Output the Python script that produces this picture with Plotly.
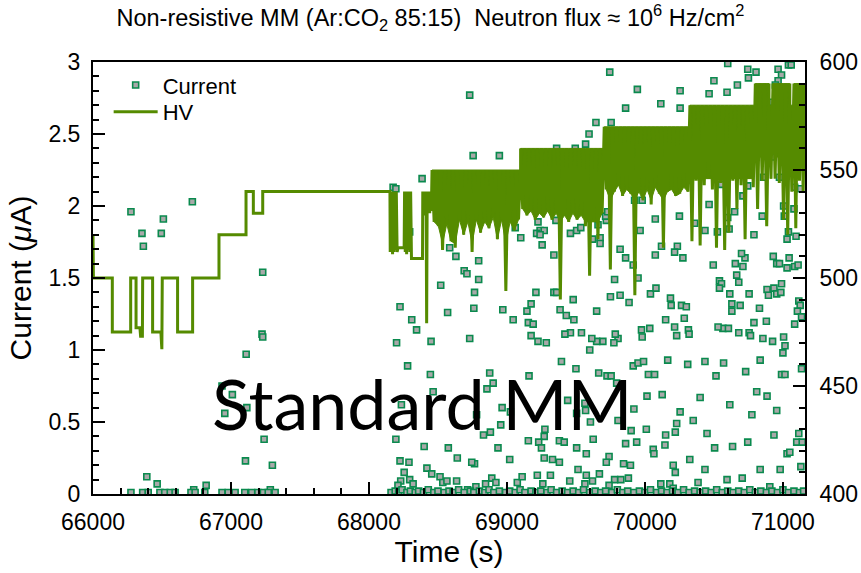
import numpy as np
import plotly.graph_objects as go

# ---------------- HV (right axis, V) ----------------
# step part (time s, voltage V)
hv_step_time = [66000, 66003, 66140, 66140, 66273, 66273, 66312, 66312, 66340, 66345, 66358, 66360,
                66432, 66432, 66492, 66495, 66499, 66502, 66613, 66613, 66722, 66722, 66913, 66913,
                67109, 67109, 67162, 67162, 67230, 67230,
                68145, 68152, 68154, 68158, 68162, 68166, 68171, 68176, 68181, 68186, 68192, 68198,
                68204, 68210, 68255, 68258, 68263, 68268, 68273, 68278, 68284, 68290, 68296, 68302,
                68308, 68312, 68388, 68390, 68396, 68402, 68408, 68414, 68418, 68422, 68428, 68434,
                68440, 68446, 68452]
hv_step_volt = [520, 500, 500, 475, 475, 500, 500, 477, 477, 473, 473, 500,
                500, 475, 475, 467, 467, 500, 500, 475, 475, 500, 500, 520,
                520, 540, 540, 530, 530, 540,
                540, 540, 512, 540, 513, 540, 511, 540, 512, 540, 513, 540,
                512, 514, 514, 540, 512, 540, 511, 540, 513, 540, 512, 540,
                509, 509, 509, 540, 531, 540, 529, 540, 479, 540, 532, 540,
                530, 540, 531]

# fast-toggling part: segment start/end, set level and the lower readings inside each segment
band_start = [68457, 69099, 69705, 70326, 70800, 70899, 70928, 71050, 71080]
band_end = [69099, 69705, 70326, 70800, 70899, 70928, 71050, 71080, 71160]
band_level = [550, 560, 570, 580, 590, 580, 590, 580, 590]
band_dips = [
    [526, 524, 513, 525, 517, 514, 527, 520, 526, 512, 527, 521, 526, 523, 528, 518, 527, 494, 526, 522, 527],
    [532, 529, 531, 527, 530, 528, 531, 527, 530, 490, 529, 526, 530, 527, 529, 524, 501, 526, 518, 530],
    [541, 504, 540, 543, 538, 541, 539, 492, 540, 536, 541, 534, 542, 539, 514, 540, 541, 538, 539, 542, 540],
    [517, 545, 515, 543, 546, 541, 514, 544, 513, 521, 545, 532, 543, 518, 546, 542],
    [532, 545, 524],
    [546],
    [546, 544, 527, 520],
    [540],
    [523, 545, 540],
]
BAND_BODY_DEPTH = 34  # V below the set level where the solid body of the toggling band ends

hv_t = list(hv_step_time)
hv_v = list(hv_step_volt)
band_fills = []
for s, e, lvl, dips in zip(band_start, band_end, band_level, band_dips):
    ts = list(np.linspace(s, e, 2 * len(dips) + 1))
    vs = []
    for d in dips:
        vs += [lvl, d]
    vs.append(lvl)
    hv_t += ts
    hv_v += vs
    low_t = ts[1::2]
    low_v = [max(d, lvl - BAND_BODY_DEPTH) for d in dips]
    band_fills.append(([s] + low_t + [e, s], [lvl] + low_v + [lvl, lvl]))

# ---------------- Current (left axis, uA): (time s, current uA) ----------------
current_early = [
    (66275, 1.96), (66355, 1.81), (66365, 1.72), (66510, 1.91), (66495, 1.81), (66720, 2.03),
    (67230, 1.54), (67225, 1.11), (67230, 1.09), (67110, 0.97), (66935, 0.75), (67010, 0.69),
    (66955, 0.56), (67115, 0.60), (67240, 0.38), (66390, 0.12), (66465, 0.07), (67105, 0.23),
    (67300, 0.20), (66730, 0.03), (66820, 0.06), (67285, 0.03),
    (66275, 0.01), (66360, 0.01), (66400, 0.01), (66485, 0.01), (66520, 0.01), (66560, 0.01),
    (66595, 0.01), (66710, 0.01), (66740, 0.01), (66810, 0.01), (66935, 0.01), (66980, 0.01),
    (67030, 0.01), (67100, 0.01), (67150, 0.01), (67195, 0.01), (67235, 0.01), (67270, 0.01),
    (67320, 0.01),
]
current_upper = [
    (68730, 2.77), (68755, 2.35), (68945, 2.35), (68385, 2.19), (68175, 2.13), (68195, 2.12),
    (69745, 2.93), (69945, 2.81), (70115, 2.71), (69860, 2.68), (69645, 2.58), (69755, 2.58),
    (69595, 2.50), (69570, 2.43), (69360, 2.40), (69495, 2.40), (70255, 2.80), (70255, 2.68),
    (70465, 2.78), (70500, 2.87), (70595, 2.79), (70670, 2.84), (70600, 2.99), (70745, 2.95),
    (70750, 2.89), (70805, 2.93), (70965, 2.95), (70990, 2.91), (71040, 2.98), (71060, 2.98),
    (70965, 2.87), (70945, 2.84), (70925, 2.72), (69925, 2.04), (69980, 2.04), (70555, 2.15),
    (70710, 2.07), (70745, 2.14), (70670, 2.22), (71125, 2.12), (71085, 2.13), (70975, 2.20),
    (70860, 2.20), (70930, 2.34), (70465, 2.01), (71005, 2.00),
]
current_middle = [
    (68295, 1.82), (68585, 1.71), (68630, 1.65), (68795, 1.62), (68690, 1.55), (68710, 1.53),
    (68795, 1.49), (68520, 1.45), (68765, 1.40), (68225, 1.30), (68760, 1.29), (68310, 1.21),
    (68570, 1.26), (68345, 1.14), (68200, 1.05), (68450, 1.06), (68730, 1.08), (69225, 1.89),
    (69240, 1.83), (69270, 1.83), (69215, 1.81), (69240, 1.80), (69100, 1.78), (69255, 1.73),
    (69060, 1.85), (69355, 1.90), (69340, 1.66), (69460, 1.81), (69505, 1.83), (69535, 1.85),
    (69620, 1.77), (69675, 1.78), (69675, 1.74), (69720, 1.90), (69715, 1.93), (69730, 1.96),
    (69660, 1.87), (69820, 1.70), (69860, 1.64), (69915, 1.59), (69780, 1.49), (69950, 1.50),
    (69750, 1.37), (69820, 1.38), (69885, 1.33), (70040, 1.39), (70080, 1.43), (70075, 1.91),
    (69965, 1.83), (70250, 1.93), (70235, 1.72), (70120, 1.72), (70215, 1.68), (70185, 1.36),
    (70190, 1.31), (70150, 1.21), (70215, 1.16), (70230, 1.10), (70035, 1.15), (69975, 1.14),
    (69980, 1.09), (69805, 1.08), (69785, 1.11), (69775, 1.05), (69695, 1.06), (69650, 1.06),
    (69615, 1.08), (69540, 1.12), (69460, 1.12), (69420, 1.11), (69285, 1.05), (69225, 1.06),
    (69175, 1.10), (69155, 1.19), (69190, 1.18), (69145, 1.27), (69175, 1.32), (69210, 1.40),
    (69340, 1.40), (69360, 1.40), (69385, 1.28), (69430, 1.24), (69485, 1.21), (69480, 1.35),
    (69650, 1.27), (69045, 1.21), (68970, 1.28), (69600, 1.00), (70075, 1.66), (70275, 1.64),
    (70285, 1.22), (70265, 1.31), (70300, 1.30), (70315, 1.14), (70320, 1.11), (70360, 1.88),
    (70435, 1.83), (70525, 1.82), (70650, 1.96), (70600, 1.92), (70610, 1.84), (70790, 1.80),
    (70850, 1.93), (71010, 1.93), (71080, 1.98), (71095, 1.79), (71030, 1.77), (71040, 1.82),
    (70955, 1.60), (70975, 1.60), (71030, 1.57), (71085, 1.58), (71110, 1.59), (70930, 1.65),
    (70725, 1.64), (70710, 1.58), (70700, 1.67), (70655, 1.60), (70495, 1.59), (70665, 1.52),
    (70680, 1.47), (70540, 1.48), (70555, 1.46), (70540, 1.43), (70615, 1.39), (70630, 1.32),
    (70690, 1.31), (70630, 1.27), (70755, 1.39), (70830, 1.29), (70885, 1.42), (70935, 1.43),
    (70990, 1.46), (70895, 1.38), (70955, 1.39), (71115, 1.34), (71125, 1.31), (71105, 1.27),
    (70790, 1.19), (70880, 1.20), (70565, 1.15), (70605, 1.15), (70530, 1.16), (70680, 1.12),
    (70755, 1.12), (70765, 1.10), (70855, 1.08), (70925, 1.06), (71005, 1.09), (71085, 1.18),
    (71135, 1.23), (71045, 1.64), (70985, 1.40), (71015, 1.03), (71000, 0.98),
]
current_lower = [
    (70990, 0.83), (71015, 0.83), (71135, 0.87), (71115, 0.42), (71100, 0.36), (71140, 0.36),
    (71030, 0.28), (71130, 0.19), (68280, 0.89), (68445, 0.83), (68465, 0.71), (68235, 0.62),
    (68195, 0.38), (68400, 0.33), (68575, 0.32), (68935, 0.32), (68875, 0.84), (68900, 0.77),
    (68855, 0.73), (69160, 0.82), (69395, 0.92), (69500, 0.87), (69665, 0.84), (69725, 0.82),
    (69755, 0.82), (69795, 0.77), (69915, 0.89), (69950, 0.91), (69990, 0.92), (70025, 0.83),
    (70015, 0.68), (68965, 0.60), (69025, 0.57), (68955, 0.48), (68830, 0.41), (68880, 0.43),
    (68780, 0.55), (69440, 0.65), (69565, 0.63), (69570, 0.58), (69505, 0.56), (69605, 0.50),
    (69805, 0.51), (69920, 0.59), (69900, 0.44), (70010, 0.45), (69275, 0.45), (69270, 0.40),
    (69155, 0.37), (69230, 0.36), (69380, 0.37), (69415, 0.36), (69625, 0.38), (69860, 0.35),
    (69940, 0.36), (69250, 0.32), (69505, 0.32), (70150, 0.41), (70220, 0.43), (70230, 0.49),
    (70060, 0.31), (70065, 0.28), (69020, 0.24), (68225, 0.23), (68290, 0.22), (68640, 0.25),
    (68765, 0.21), (69270, 0.25), (69330, 0.24), (69380, 0.22), (69575, 0.28), (69740, 0.26),
    (69720, 0.22), (69845, 0.21), (69895, 0.20), (70205, 0.20), (68420, 0.18), (68455, 0.14),
    (68255, 0.15), (68515, 0.12), (68535, 0.08), (68565, 0.09), (68635, 0.09), (68230, 0.09),
    (68210, 0.06), (68295, 0.10), (68320, 0.07), (68890, 0.11), (68920, 0.08), (69220, 0.13),
    (69315, 0.13), (69260, 0.07), (69515, 0.17), (69575, 0.13), (69620, 0.09), (69670, 0.14),
    (69780, 0.10), (69825, 0.10), (69880, 0.11), (69075, 0.08), (69110, 0.12), (69455, 0.09),
    (68845, 0.07), (69565, 0.07), (69740, 0.06), (70115, 0.07), (70180, 0.07), (70205, 0.04),
    (70220, 0.15), (68745, 0.22), (68715, 0.03), (68775, 0.05),
    (70310, 0.90), (70400, 0.67), (70435, 0.92), (70515, 0.82), (70570, 0.91), (70730, 0.85),
    (70835, 0.93), (70885, 0.68), (70955, 0.58), (70350, 0.51), (70450, 0.42), (70635, 0.33),
    (70745, 0.36), (70835, 0.17), (70980, 0.17), (71050, 0.29), (70595, 0.10), (70705, 0.11),
    (70905, 0.05), (70435, 0.17), (70325, 0.24), (70615, 0.62), (70775, 0.55), (70505, 0.32),
    (70385, 0.08), (70810, 0.71), (70935, 0.41), (70125, 0.69), (70165, 0.93), (70070, 0.83),
    (70255, 0.57), (70145, 0.34),
]
current_baseline = [
    (68160, 0.01), (68190, 0.02), (68215, 0.01), (68240, 0.03), (68275, 0.01), (68300, 0.02),
    (68335, 0.01), (68360, 0.02), (68395, 0.01), (68430, 0.03), (68470, 0.01), (68500, 0.02),
    (68545, 0.01), (68580, 0.02), (68610, 0.01), (68650, 0.03), (68690, 0.01), (68735, 0.02),
    (68760, 0.01), (68800, 0.02), (68840, 0.01), (68870, 0.03), (68905, 0.01), (68945, 0.02),
    (68990, 0.01), (69020, 0.02), (69060, 0.01), (69095, 0.03), (69130, 0.01), (69175, 0.02),
    (69210, 0.01), (69245, 0.02), (69290, 0.01), (69320, 0.03), (69360, 0.01), (69400, 0.02),
    (69440, 0.01), (69480, 0.02), (69520, 0.01), (69555, 0.03), (69600, 0.01), (69640, 0.02),
    (69680, 0.01), (69715, 0.02), (69760, 0.01), (69800, 0.03), (69840, 0.01), (69875, 0.02),
    (69920, 0.01), (69960, 0.02), (70000, 0.01), (70040, 0.03), (70085, 0.01), (70120, 0.02),
    (70160, 0.01), (70200, 0.02), (70240, 0.01), (70280, 0.03), (70320, 0.01), (70360, 0.02),
    (70400, 0.01), (70440, 0.02), (70480, 0.01), (70520, 0.03), (70560, 0.01), (70600, 0.02),
    (70640, 0.01), (70680, 0.02), (70720, 0.01), (70760, 0.03), (70800, 0.01), (70840, 0.02),
    (70880, 0.01), (70920, 0.02), (70960, 0.01), (71000, 0.03), (71040, 0.01), (71080, 0.02),
    (71120, 0.01), (71150, 0.02),
]

all_current = current_early + current_upper + current_middle + current_lower + current_baseline
cur_t = [p[0] for p in all_current]
cur_v = [p[1] for p in all_current]

x_ticks = [66000, 67000, 68000, 69000, 70000, 71000]
title_text = ("Non-resistive MM (Ar:CO<sub>2</sub> 85:15)\u00a0\u00a0Neutron flux \u2248 10<sup>6</sup> Hz/cm<sup>2</sup>")

FONT = "Liberation Sans, Arial, Helvetica, sans-serif"
HV_COLOR = "#558b00"
fig = go.Figure()
# solid body of the fast-toggling HV readings (between set level and the low readings)
for ft, fv in band_fills:
    fig.add_trace(go.Scatter(
        x=ft, y=fv, yaxis="y2", mode="lines", fill="toself", fillcolor=HV_COLOR,
        line=dict(width=1, color=HV_COLOR), showlegend=False, hoverinfo="skip"))
fig.add_trace(go.Scatter(
    x=hv_t, y=hv_v, yaxis="y2", mode="lines", name="HV", legend="legend2",
    line=dict(color=HV_COLOR, width=3), hoverinfo="skip"))
fig.add_trace(go.Scatter(
    x=cur_t, y=cur_v, mode="markers", name="Current", legend="legend",
    marker=dict(symbol="square", size=6, color="#a9a9a9",
                line=dict(color="#0a8a4e", width=1.6))))

axis_common = dict(showline=True, linewidth=2, linecolor="black", showgrid=False, zeroline=False,
                   ticks="inside", ticklen=12, tickwidth=2, tickcolor="black",
                   tickfont=dict(size=23, color="black", family=FONT))
legend_common = dict(xanchor="left", yanchor="top", bgcolor="rgba(0,0,0,0)",
                     font=dict(size=22, color="black", family=FONT), itemwidth=44)

fig.update_layout(
    width=861, height=573,
    margin=dict(l=93, r=56, t=62, b=79, autoexpand=False),
    paper_bgcolor="white", plot_bgcolor="white",
    font=dict(family=FONT, color="black"),
    title=dict(text=title_text, x=0.5, xanchor="center", y=1 - 18 / 573, yanchor="middle",
               font=dict(size=23.5, color="black", family=FONT)),
    showlegend=True,
    legend=dict(x=0.022, y=0.995, **legend_common),
    legend2=dict(x=0.022, y=0.933, **legend_common),
    xaxis=dict(range=[66000, 71160], tickvals=x_ticks, tickformat="d", mirror=True,
               minor=dict(dtick=200, tick0=66000, ticks="inside", ticklen=6, tickwidth=1.5,
                          tickcolor="black", showgrid=False),
               title=dict(text="Time (s)", font=dict(size=30, color="black", family=FONT), standoff=4),
               ticklabelstandoff=6, **axis_common),
    yaxis=dict(range=[0, 3], dtick=0.5, tick0=0,
               minor=dict(dtick=0.1, tick0=0, ticks="inside", ticklen=6, tickwidth=1.5,
                          tickcolor="black", showgrid=False),
               title=dict(text="Current (<i>\u03bc</i>A)", font=dict(size=30, color="black", family=FONT),
                          standoff=8),
               ticklabelstandoff=6, **axis_common),
    yaxis2=dict(range=[400, 600], dtick=50, tick0=400, overlaying="y", side="right",
                minor=dict(dtick=10, tick0=400, ticks="inside", ticklen=6, tickwidth=1.5,
                           tickcolor="black", showgrid=False),
                ticklabelstandoff=8, **axis_common),
    annotations=[dict(text="Standard MM", x=68391, y=0.63, xref="x", yref="y",
                      xanchor="center", yanchor="middle", showarrow=False,
                      font=dict(size=70, color="black", family="Lato, Open Sans, sans-serif"))],
)

fig.write_html("out.html")
